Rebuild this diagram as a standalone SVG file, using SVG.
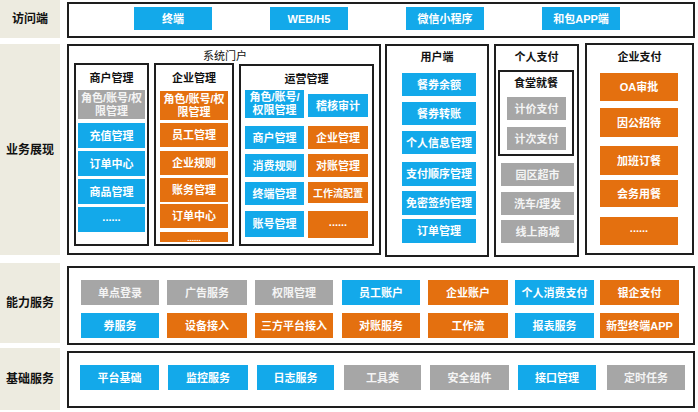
<svg xmlns="http://www.w3.org/2000/svg" width="698" height="412" viewBox="0 0 698 412">
<style>
text{font-family:"Liberation Sans","Noto Sans CJK SC",sans-serif;}
.bg{fill:#ffffff;}
.lab{fill:#edebe0;}
.fr{fill:#ffffff;stroke:#1e1e1e;stroke-width:2;}
.b{fill:#13a9ea;}
.o{fill:#e4700f;}
.g{fill:#a6a6a6;}
.t{fill:#ffffff;font-size:11px;font-weight:bold;text-anchor:middle;}
.tg{fill:#f4f4f4;font-size:11px;font-weight:bold;text-anchor:middle;}
.h{fill:#111111;font-size:11px;font-weight:bold;text-anchor:middle;}
.hn{fill:#111111;font-size:11px;text-anchor:middle;}
.l{fill:#111111;font-size:12px;font-weight:bold;text-anchor:middle;}
</style>
<rect class="bg" x="0" y="0" width="698" height="412"/>

<!-- Row 1: 访问端 -->
<g id="row-access">
<rect class="lab" x="0" y="0" width="60" height="38"/>
<text class="l" x="30" y="23">访问端</text>
<rect class="fr" x="68" y="3" width="626" height="34"/>
</g>
<g id="access-terminal"><rect class="b" x="134" y="7" width="78" height="23"/><text class="t" x="173" y="22.5">终端</text></g>
<g id="access-web"><rect class="b" x="270" y="7" width="78" height="23"/><text class="t" x="309" y="22.5">WEB/H5</text></g>
<g id="access-wechat"><rect class="b" x="406" y="7" width="78" height="23"/><text class="t" x="445" y="22.5">微信小程序</text></g>
<g id="access-app"><rect class="b" x="542" y="7" width="78" height="23"/><text class="t" x="581" y="22.5">和包APP端</text></g>

<!-- Row 2: 业务展现 -->
<g id="row-business">
<rect class="lab" x="0" y="44" width="60" height="211"/>
<text class="l" x="30" y="154">业务展现</text>
</g>

<g id="portal">
<rect class="fr" x="68" y="45" width="312" height="209"/>
<text class="hn" x="225" y="60">系统门户</text>
</g>

<g id="merchant-mgmt">
<rect class="fr" x="75" y="64" width="73" height="181"/>
<text class="h" x="111.5" y="82">商户管理</text>
<rect class="g" x="78" y="90" width="67" height="29"/>
<text class="tg" x="111.5" y="102">角色/账号/权</text>
<text class="tg" x="111.5" y="115">限管理</text>
<rect class="b" x="78" y="123" width="67" height="25"/><text class="t" x="111.5" y="139.5">充值管理</text>
<rect class="b" x="78" y="151" width="67" height="25"/><text class="t" x="111.5" y="167.5">订单中心</text>
<rect class="b" x="78" y="179" width="67" height="25"/><text class="t" x="111.5" y="195.5">商品管理</text>
<rect class="b" x="78" y="207" width="67" height="25"/><text class="t" x="111.5" y="221">......</text>
</g>

<g id="enterprise-mgmt">
<rect class="fr" x="155" y="64" width="78" height="181"/>
<text class="h" x="194" y="82">企业管理</text>
<rect class="o" x="160" y="91" width="68" height="29"/>
<text class="t" x="194" y="103">角色/账号/权</text>
<text class="t" x="194" y="116">限管理</text>
<rect class="o" x="160" y="123" width="68" height="24"/><text class="t" x="194" y="139">员工管理</text>
<rect class="o" x="160" y="151" width="68" height="24"/><text class="t" x="194" y="167">企业规则</text>
<rect class="o" x="160" y="178" width="68" height="24"/><text class="t" x="194" y="194">账务管理</text>
<rect class="o" x="160" y="204" width="68" height="24"/><text class="t" x="194" y="220">订单中心</text>
<rect class="o" x="160" y="232" width="68" height="10"/><text class="t" x="194" y="241" style="font-size:8px">......</text>
</g>

<g id="operation-mgmt">
<rect class="fr" x="240" y="65" width="133" height="180"/>
<text class="h" x="306.5" y="83">运营管理</text>
<rect class="b" x="245" y="90" width="59" height="28"/>
<text class="t" x="274.5" y="101">角色/账号/</text>
<text class="t" x="274.5" y="114">权限管理</text>
<rect class="b" x="308" y="94" width="60" height="23"/><text class="t" x="338" y="109.5">稽核审计</text>
<rect class="b" x="245" y="126" width="59" height="23"/><text class="t" x="274.5" y="141.5">商户管理</text>
<rect class="o" x="308" y="126" width="60" height="23"/><text class="t" x="338" y="141.5">企业管理</text>
<rect class="b" x="245" y="154" width="59" height="23"/><text class="t" x="274.5" y="169.5">消费规则</text>
<rect class="o" x="308" y="154" width="60" height="23"/><text class="t" x="338" y="169.5">对账管理</text>
<rect class="b" x="245" y="182" width="59" height="23"/><text class="t" x="274.5" y="197.5">终端管理</text>
<rect class="o" x="308" y="182" width="60" height="21"/><text class="t" x="338" y="196.5" style="font-size:10px">工作流配置</text>
<rect class="b" x="245" y="211" width="59" height="26"/><text class="t" x="274.5" y="228">账号管理</text>
<rect class="o" x="308" y="211" width="60" height="27"/><text class="t" x="338" y="226">......</text>
</g>

<g id="user-side">
<rect class="fr" x="386" y="45" width="102" height="211"/>
<text class="h" x="437" y="61">用户端</text>
<rect class="b" x="402" y="73" width="74" height="23"/><text class="t" x="439" y="88.5">餐券余额</text>
<rect class="b" x="402" y="102" width="74" height="23"/><text class="t" x="439" y="117.5">餐券转账</text>
<rect class="b" x="402" y="131" width="74" height="23"/><text class="t" x="439" y="146.5">个人信息管理</text>
<rect class="b" x="402" y="162" width="74" height="24"/><text class="t" x="439" y="178">支付顺序管理</text>
<rect class="b" x="402" y="191" width="74" height="24"/><text class="t" x="439" y="207">免密签约管理</text>
<rect class="b" x="402" y="219" width="74" height="24"/><text class="t" x="439" y="235">订单管理</text>
</g>

<g id="personal-pay">
<rect class="fr" x="495" y="45" width="83" height="211"/>
<text class="h" x="536.5" y="61">个人支付</text>
<rect class="fr" x="499" y="71" width="74" height="84"/>
<text class="h" x="536" y="87">食堂就餐</text>
<rect class="g" x="507" y="97" width="59" height="23"/><text class="tg" x="536.5" y="112.5">计价支付</text>
<rect class="g" x="507" y="127" width="59" height="23"/><text class="tg" x="536.5" y="142.5">计次支付</text>
<rect class="g" x="501" y="163" width="73" height="23"/><text class="tg" x="537.5" y="178.5">园区超市</text>
<rect class="g" x="501" y="192" width="73" height="23"/><text class="tg" x="537.5" y="207.5">洗车/理发</text>
<rect class="g" x="501" y="220" width="73" height="23"/><text class="tg" x="537.5" y="235.5">线上商城</text>
</g>

<g id="enterprise-pay">
<rect class="fr" x="586" y="44" width="107" height="210"/>
<text class="h" x="639.5" y="61">企业支付</text>
<rect class="o" x="600" y="73" width="78" height="28"/><text class="t" x="639" y="91">OA审批</text>
<rect class="o" x="600" y="108" width="78" height="29"/><text class="t" x="639" y="126.5">因公招待</text>
<rect class="o" x="600" y="146" width="78" height="29"/><text class="t" x="639" y="164.5">加班订餐</text>
<rect class="o" x="600" y="180" width="78" height="27"/><text class="t" x="639" y="197.5">会务用餐</text>
<rect class="o" x="600" y="217" width="78" height="28"/><text class="t" x="639" y="232">......</text>
</g>

<!-- Row 3: 能力服务 -->
<g id="row-capability">
<rect class="lab" x="0" y="263" width="60" height="80"/>
<text class="l" x="30" y="307">能力服务</text>
<rect class="fr" x="68" y="267" width="626" height="77"/>
</g>
<g id="cap-sso"><rect class="g" x="81" y="280" width="78" height="25"/><text class="tg" x="120" y="296.5">单点登录</text></g>
<g id="cap-ad"><rect class="g" x="167" y="280" width="80" height="25"/><text class="tg" x="207" y="296.5">广告服务</text></g>
<g id="cap-perm"><rect class="g" x="255" y="280" width="78" height="25"/><text class="tg" x="294" y="296.5">权限管理</text></g>
<g id="cap-staff"><rect class="b" x="342" y="280" width="78" height="25"/><text class="t" x="381" y="296.5">员工账户</text></g>
<g id="cap-ent-acc"><rect class="o" x="428" y="280" width="80" height="25"/><text class="t" x="468" y="296.5">企业账户</text></g>
<g id="cap-personal"><rect class="b" x="515" y="280" width="79" height="25"/><text class="t" x="554.5" y="296.5">个人消费支付</text></g>
<g id="cap-bank"><rect class="o" x="600" y="280" width="79" height="25"/><text class="t" x="639.5" y="296.5">银企支付</text></g>
<g id="cap-coupon"><rect class="b" x="81" y="313" width="78" height="25"/><text class="t" x="120" y="329.5">券服务</text></g>
<g id="cap-device"><rect class="o" x="167" y="313" width="80" height="25"/><text class="t" x="207" y="329.5">设备接入</text></g>
<g id="cap-third"><rect class="o" x="255" y="313" width="78" height="25"/><text class="t" x="294" y="329.5">三方平台接入</text></g>
<g id="cap-recon"><rect class="o" x="342" y="313" width="78" height="25"/><text class="t" x="381" y="329.5">对账服务</text></g>
<g id="cap-workflow"><rect class="o" x="428" y="313" width="80" height="25"/><text class="t" x="468" y="329.5">工作流</text></g>
<g id="cap-report"><rect class="b" x="515" y="313" width="79" height="25"/><text class="t" x="554.5" y="329.5">报表服务</text></g>
<g id="cap-newapp"><rect class="o" x="600" y="313" width="79" height="25"/><text class="t" x="639.5" y="329.5">新型终端APP</text></g>

<!-- Row 4: 基础服务 -->
<g id="row-base">
<rect class="lab" x="0" y="348" width="60" height="62"/>
<text class="l" x="30" y="383">基础服务</text>
<rect class="fr" x="68" y="352" width="626" height="55"/>
</g>
<g id="base-platform"><rect class="b" x="80" y="365" width="79" height="25"/><text class="t" x="119.5" y="381.5">平台基础</text></g>
<g id="base-monitor"><rect class="b" x="168" y="365" width="80" height="25"/><text class="t" x="208" y="381.5">监控服务</text></g>
<g id="base-log"><rect class="b" x="257" y="365" width="77" height="25"/><text class="t" x="295.5" y="381.5">日志服务</text></g>
<g id="base-tools"><rect class="g" x="344" y="365" width="77" height="25"/><text class="tg" x="382.5" y="381.5">工具类</text></g>
<g id="base-security"><rect class="g" x="430" y="365" width="79" height="25"/><text class="tg" x="469.5" y="381.5">安全组件</text></g>
<g id="base-api"><rect class="b" x="518" y="365" width="78" height="25"/><text class="t" x="557" y="381.5">接口管理</text></g>
<g id="base-timer"><rect class="g" x="607" y="365" width="78" height="25"/><text class="tg" x="646" y="381.5">定时任务</text></g>

<g id="connectors"></g>
</svg>
